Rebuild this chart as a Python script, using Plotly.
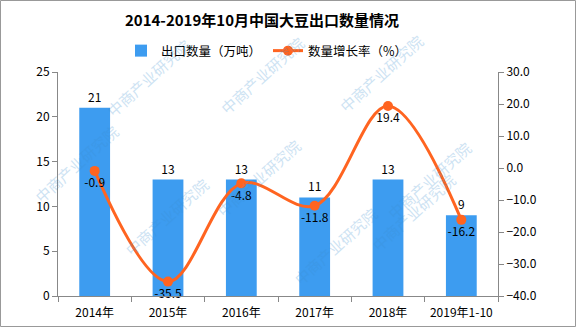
import plotly.graph_objects as go

# Data
years = ["2014年", "2015年", "2016年", "2017年", "2018年", "2019年1-10"]
export_volume = [21, 13, 13, 11, 13, 9]          # 万吨
growth_rate = [-0.9, -35.5, -4.8, -11.8, 19.4, -16.2]  # %

W, H = 576, 327
L, R, T, B = 58, 78, 72, 31
PW, PH = W - L - R, H - T - B


def px_x(px):
    """Pixel x -> paper x (paper is the plot area)."""
    return (px - L) / PW


def px_y(py):
    """Pixel y (from top) -> paper y."""
    return 1 - (py - T) / PH


FONT = "Noto Sans CJK SC"
BAR_COLOR = "#3d9cf0"
LINE_COLOR = "#ff6420"
AXIS_COLOR = "#888888"

fig = go.Figure()

fig.add_trace(go.Bar(
    x=years, y=export_volume, name="出口数量（万吨）",
    marker=dict(color=BAR_COLOR, line=dict(width=0)),
    width=0.42,
    text=[str(v) for v in export_volume], textposition="outside",
    textfont=dict(color="#000000", size=12, family=FONT),
    cliponaxis=False,
))

fig.add_trace(go.Scatter(
    x=years, y=growth_rate, name="数量增长率（%）", yaxis="y2",
    mode="lines+markers+text",
    line=dict(color=LINE_COLOR, width=3, shape="spline", smoothing=1.0),
    marker=dict(color=LINE_COLOR, size=10),
    text=[f"{v:.1f}" for v in growth_rate], textposition="bottom center",
    textfont=dict(color="#000000", size=12, family=FONT),
    cliponaxis=False,
))

# Faint diagonal watermark text
wm_positions = [(100, 32), (262, 30), (430, 28), (28, 118), (258, 178),
                (478, 135), (118, 262), (335, 292), (462, 258)]
annotations = []
for px, py in wm_positions:
    annotations.append(dict(
        text="中商产业研究院", x=px_x(px), y=px_y(py), xref="paper", yref="paper",
        showarrow=False, textangle=-42, opacity=0.25,
        font=dict(size=15, color="#3a8fd0", family=FONT),
    ))

# Outer frame of the chart
shapes = [dict(
    type="rect", xref="paper", yref="paper",
    x0=px_x(0.5), x1=px_x(W - 0.5), y0=px_y(H - 0.5), y1=px_y(0.5),
    line=dict(color="#999999", width=1), layer="below",
)]

fig.update_layout(
    width=W, height=H,
    margin=dict(l=L, r=R, t=T, b=B, pad=0, autoexpand=False),
    paper_bgcolor="white", plot_bgcolor="white",
    font=dict(family=FONT, size=12, color="#000000"),
    title=dict(text="<b>2014-2019年10月中国大豆出口数量情况</b>",
               x=262 / W, xanchor="center", y=1 - 21 / H, yanchor="middle",
               font=dict(size=15, color="#000000", family=FONT)),
    showlegend=True,
    legend=dict(orientation="h", x=px_x(121), xanchor="left", y=px_y(51), yanchor="middle",
                font=dict(size=12.5, family=FONT), itemwidth=30, bgcolor="rgba(0,0,0,0)",
                traceorder="normal", entrywidth=102),
    bargap=0.58,
    xaxis=dict(showline=True, linecolor=AXIS_COLOR, ticks="outside", tickcolor=AXIS_COLOR,
               ticklen=5, tickson="boundaries", showgrid=False, zeroline=False,
               ticklabelstandoff=6, automargin=False,
               tickfont=dict(size=12, family=FONT)),
    yaxis=dict(range=[0, 25], dtick=5, showline=True, linecolor=AXIS_COLOR, ticks="outside",
               tickcolor=AXIS_COLOR, ticklen=5, showgrid=False, zeroline=False,
               automargin=False, tickfont=dict(size=12, family=FONT)),
    yaxis2=dict(range=[-40, 30], dtick=10, overlaying="y", side="right", showline=True,
                linecolor=AXIS_COLOR, ticks="outside", tickcolor=AXIS_COLOR, ticklen=5,
                showgrid=False, zeroline=False, tickformat=".1f", automargin=False,
                tickfont=dict(size=12, family=FONT)),
    annotations=annotations,
    shapes=shapes,
)

fig.write_html("out.html")
